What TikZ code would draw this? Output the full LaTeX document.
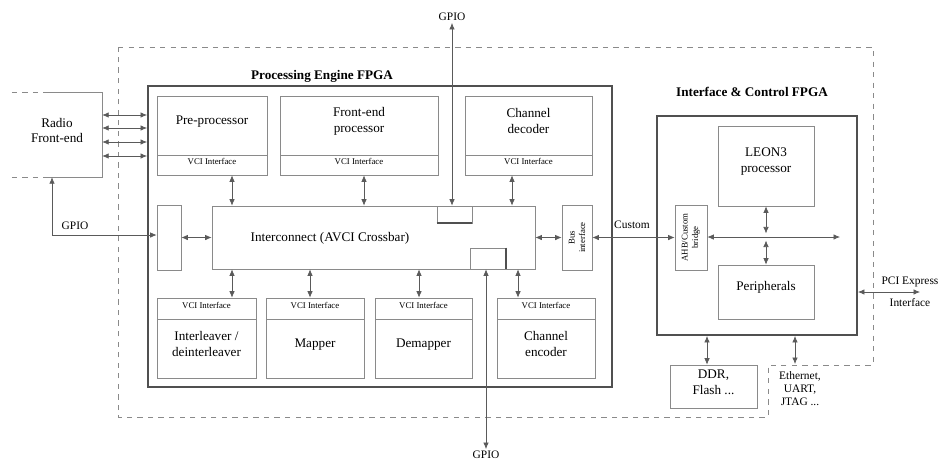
\documentclass[tikz,border=0pt]{standalone}
\usepackage{fontspec}
\setmainfont{Liberation Serif}
\usetikzlibrary{arrows.meta,calc,fit,positioning}
\definecolor{EdgeGray}{HTML}{8A8A8A}
\definecolor{FrameGray}{HTML}{505050}
\definecolor{LineGray}{HTML}{5A5A5A}

\begin{document}
\begin{tikzpicture}[x=0.02cm,y=-0.02cm,
    blk/.style={draw=EdgeGray,inner sep=0pt,align=center,font=\fontsize{7.5}{9}\selectfont},
    vci/.style={blk,font=\fontsize{5}{6}\selectfont},
    fpga/.style={draw=FrameGray,line width=1.1pt,inner sep=0pt},
    ttl/.style={font=\bfseries\fontsize{7.5}{9}\selectfont},
    txt/.style={font=\fontsize{7.5}{9}\selectfont,align=center},
    lbl/.style={font=\fontsize{6.5}{7.5}\selectfont,align=center,inner sep=1pt},
    arr/.style={{Latex[length=1.3mm,width=1.1mm]}-{Latex[length=1.3mm,width=1.1mm]},LineGray}]
    \useasboundingbox (0,0) rectangle (943,464);
    % outer board boundary
    \draw[dashed,EdgeGray] (118,47) -- (873,47) -- (873,365) -- (768,365) -- (768,417) -- (118,417) -- cycle;
    % the two FPGAs
    \node[fpga,fit={(148,86)(612,387)}] (pe) {};
    \node[ttl] (petitle) at (322,76) {Processing Engine FPGA};
    \node[fpga,fit={(657,116)(857,335)}] (ic) {};
    \node[ttl] (ictitle) at (752,92) {Interface \& Control FPGA};
    % radio front-end
    \node[txt,fit={(18,99)(96,171)}] (radio) {Radio\\Front-end};
    \draw[EdgeGray,dashed] (radio.north west) -- +(37,0);
    \draw[EdgeGray,dashed] (radio.south west) -- +(37,0);
    \draw[EdgeGray] ($(radio.north west)+(37,0)$) -- (radio.north east) -- (radio.south east) -- ($(radio.south west)+(37,0)$);
    \foreach \y in {115,128,142,156}{\draw[arr] (radio.east |- 0,\y) -- (pe.west |- 0,\y);}
    % upper blocks
    \node[blk,fit={(157,96)(267,155)}] (pre) {Pre-processor};
    \node[vci,fit={(157,155)(267,175)}] (prevci) {VCI Interface};
    \node[blk,fit={(280,96)(438,155)}] (fep) {Front-end\\processor};
    \node[vci,fit={(280,155)(438,175)}] (fepvci) {VCI Interface};
    \node[blk,fit={(465,96)(592,155)}] (cd) {Channel\\decoder};
    \node[vci,fit={(465,155)(592,175)}] (cdvci) {VCI Interface};
    % interconnect
    \node[blk,fit={(212,206)(535,269)}] (xbar) {};
    \node[txt] (xbartext) at (330,238) {Interconnect (AVCI Crossbar)};
    \node[blk,fit={(437,206)(472,223)}] (gpioa) {};
    \draw[FrameGray,line width=1pt] (gpioa.south west) -- (gpioa.south east);
    \node[blk,fit={(470,248)(506,269)}] (gpiob) {};
    \draw[FrameGray,line width=1pt] (gpiob.north east) -- (gpiob.south east);
    \node[blk,fit={(157,205)(181,270)}] (gbox) {};
    \node[blk,fit={(562,205)(592,270)}] (bus) {};
    \node[vci,draw=none,rotate=90] (bustext) at (bus) {Bus\\interface};
    % lower blocks
    \node[vci,fit={(157,298)(256,319)}] (ilvvci) {VCI Interface};
    \node[blk,fit={(157,319)(256,378)}] (ilv) {Interleaver /\\deinterleaver};
    \node[vci,fit={(266,298)(364,319)}] (mapvci) {VCI Interface};
    \node[blk,fit={(266,319)(364,378)}] (map) {Mapper};
    \node[vci,fit={(375,298)(472,319)}] (demvci) {VCI Interface};
    \node[blk,fit={(375,319)(472,378)}] (dem) {Demapper};
    \node[vci,fit={(497,298)(595,319)}] (cevci) {VCI Interface};
    \node[blk,fit={(497,319)(595,378)}] (ce) {Channel\\encoder};
    \foreach \n/\x in {prevci/232,fepvci/364,cdvci/512}{\draw[arr] (\n.south -| \x,0) -- (xbar.north -| \x,0);}
    \foreach \n/\x in {ilvvci/232,mapvci/310,demvci/419,cevci/518}{\draw[arr] (xbar.south -| \x,0) -- (\n.north -| \x,0);}
    \draw[arr] (gbox) -- (xbar);
    \draw[arr] (xbar) -- (bus);
    % GPIO lines
    \node[lbl] (gpiotop) at (452,17) {GPIO};
    \draw[arr] (gpiotop.south) -- (gpiotop.south |- gpioa.north);
    \node[lbl] (gpiobot) at (486,455) {GPIO};
    \draw[arr] (gpiob.south -| gpiobot) -- (gpiobot.north);
    \coordinate (gcorner) at (52,235);
    \node[lbl] (gpioleft) at (75,226) {GPIO};
    \draw[arr] (gbox.west |- gcorner) -- (gcorner) -- (gcorner |- radio.south);
    % interface & control FPGA
    \node[blk,fit={(718,126)(814,206)}] (leon) {LEON3\\processor};
    \node[blk,fit={(718,265)(814,319)}] (periph) {Peripherals};
    \node[blk,fit={(675,205)(707,270)}] (bridge) {};
    \node[vci,draw=none,rotate=90] (bridgetext) at (bridge) {AHB/Custom\\bridge};
    \draw[arr] (bus) -- (bridge);
    \node[lbl] (custom) at (632,225) {Custom};
    \coordinate (busend) at (840,237);
    \coordinate (tap) at (766,237);
    \draw[arr] (bridge.east |- busend) -- (busend);
    \draw[arr] (leon.south -| tap) -- ([yshift=2pt]tap);
    \draw[arr] ([yshift=-2pt]tap) -- (periph.north -| tap);
    % external interfaces
    \coordinate (pciend) at (920,292);
    \node[lbl] (pci) at (910,292) {PCI Express\\[5pt]Interface};
    \draw[arr] (ic.east |- pciend) -- (pciend);
    \node[blk,fit={(670,365)(757,408)}] (ddr) {DDR,\\Flash ...};
    \draw[arr] (ic.south -| 707,0) -- (ddr.north -| 707,0);
    \coordinate (ethtop) at (795,364);
    \node[lbl,anchor=north] (eth) at (800,369) {Ethernet,\\UART,\\JTAG ...};
    \draw[arr] (ic.south -| ethtop) -- (ethtop);
\end{tikzpicture}
\end{document}
